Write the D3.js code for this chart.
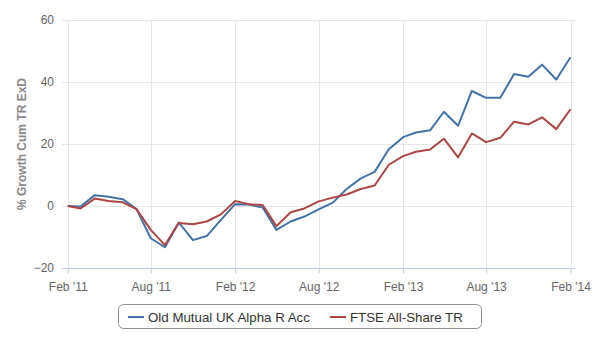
<!DOCTYPE html>
<html><head><meta charset="utf-8">
<script src="https://cdn.jsdelivr.net/npm/d3@7"></script>
<style>body{margin:0;background:#fff;} svg{display:block;font-family:"Liberation Sans",Arial,sans-serif;}</style>
</head><body>
<svg id="c" width="600" height="350"></svg>
<script>
const months = ["2011-02","2011-03","2011-04","2011-05","2011-06","2011-07","2011-08","2011-09","2011-10","2011-11","2011-12",
"2012-01","2012-02","2012-03","2012-04","2012-05","2012-06","2012-07","2012-08","2012-09","2012-10","2012-11","2012-12",
"2013-01","2013-02","2013-03","2013-04","2013-05","2013-06","2013-07","2013-08","2013-09","2013-10","2013-11","2013-12",
"2014-01","2014-02"];
const fundValues = [0,-0.2,3.5,3.0,2.2,-1,-10.4,-13.3,-5.3,-11,-9.7,-4.5,0.6,0.5,-0.5,-7.7,-5,-3.4,-1.1,1.1,5.5,8.9,11,18.3,22.2,23.7,24.4,30.4,25.9,37.1,34.9,34.9,42.6,41.7,45.6,40.8,48];
const indexValues = [0,-0.8,2.4,1.6,1.2,-1,-7.7,-12.6,-5.5,-5.9,-5,-2.7,1.6,0.6,0.3,-6.5,-2,-0.8,1.5,2.7,3.7,5.5,6.6,13.3,16.1,17.5,18.2,21.7,15.7,23.4,20.6,22,27.2,26.3,28.6,24.8,31.2];
const seriesNames = ["Old Mutual UK Alpha R Acc","FTSE All-Share TR"];
const xTicks = ["2011-02","2011-08","2012-02","2012-08","2013-02","2013-08","2014-02"];
const yTicks = [-20,0,20,40,60];
const yTitle = "% Growth Cum TR ExD";

const parse = d3.timeParse("%Y-%m");
const fmt = d3.timeFormat("%b '%y");
const svg = d3.select("#c");
const L = 62, R = 575, T = 20, B = 268;
const x = d3.scaleTime().domain([parse(months[0]), parse(months[months.length-1])]).range([67.7, 570.5]);
const y = d3.scaleLinear().domain([-20,60]).range([B, T]);

// horizontal grid
svg.append("g").selectAll("line").data(yTicks.filter(v=>v!==-20)).join("line")
  .attr("x1", L).attr("x2", R).attr("y1", d=>y(d)+0.5).attr("y2", d=>y(d)+0.5)
  .attr("stroke", "#e6e6e6").attr("stroke-width",1);
// vertical grid
svg.append("g").selectAll("line").data(xTicks).join("line")
  .attr("x1", d=>Math.round(x(parse(d)))+0.5).attr("x2", d=>Math.round(x(parse(d)))+0.5)
  .attr("y1", T).attr("y2", B).attr("stroke", "#e6e6e6");

// x axis
const xAxis = d3.axisBottom(x).tickValues(xTicks.map(parse)).tickFormat(fmt).tickSize(5).tickPadding(9);
const gx = svg.append("g").attr("transform", `translate(0,${B+0.5})`).call(xAxis);
gx.select(".domain").attr("d", `M${L},0H${R}`).attr("stroke", "#C0D0E0");
gx.selectAll(".tick line").attr("stroke", "#C0D0E0");
gx.selectAll(".tick text").attr("fill", "#666").style("font-size","12px");

// y axis labels
const yAxis = d3.axisLeft(y).tickValues(yTicks).tickSize(0).tickPadding(8);
const gy = svg.append("g").attr("transform", `translate(${L},0)`).call(yAxis);
gy.select(".domain").remove();
gy.selectAll(".tick text").attr("fill", "#666").style("font-size","12px");

// y title
svg.append("text").attr("transform", `translate(26,${(T+B)/2}) rotate(-90)`)
  .attr("text-anchor","middle").attr("fill","#888").style("font-size","12px").style("font-weight","bold")
  .text(yTitle);

const colors = ["#4572A7","#AA4643"];
const line = d3.line().x((d,i)=>x(parse(months[i]))).y(d=>y(d));
[fundValues, indexValues].forEach((vals, k)=>{
  svg.append("path").datum(vals).attr("d", line).attr("fill","none")
    .attr("stroke", colors[k]).attr("stroke-width", 2).attr("stroke-linejoin","round");
});

// legend
const lg = svg.append("g");
lg.append("rect").attr("x",118.5).attr("y",304.5).attr("width",363).attr("height",24).attr("rx",5)
  .attr("fill","#fff").attr("stroke","#909090");
const items = [{x:128},{x:330}];
items.forEach((it,k)=>{
  lg.append("line").attr("x1",it.x).attr("x2",it.x+16).attr("y1",317).attr("y2",317)
    .attr("stroke",colors[k]).attr("stroke-width",2);
  lg.append("text").attr("x",it.x+20).attr("y",321.5).attr("fill","#333").style("font-size","13.3px").text(seriesNames[k]);
});
</script>
</body></html>
